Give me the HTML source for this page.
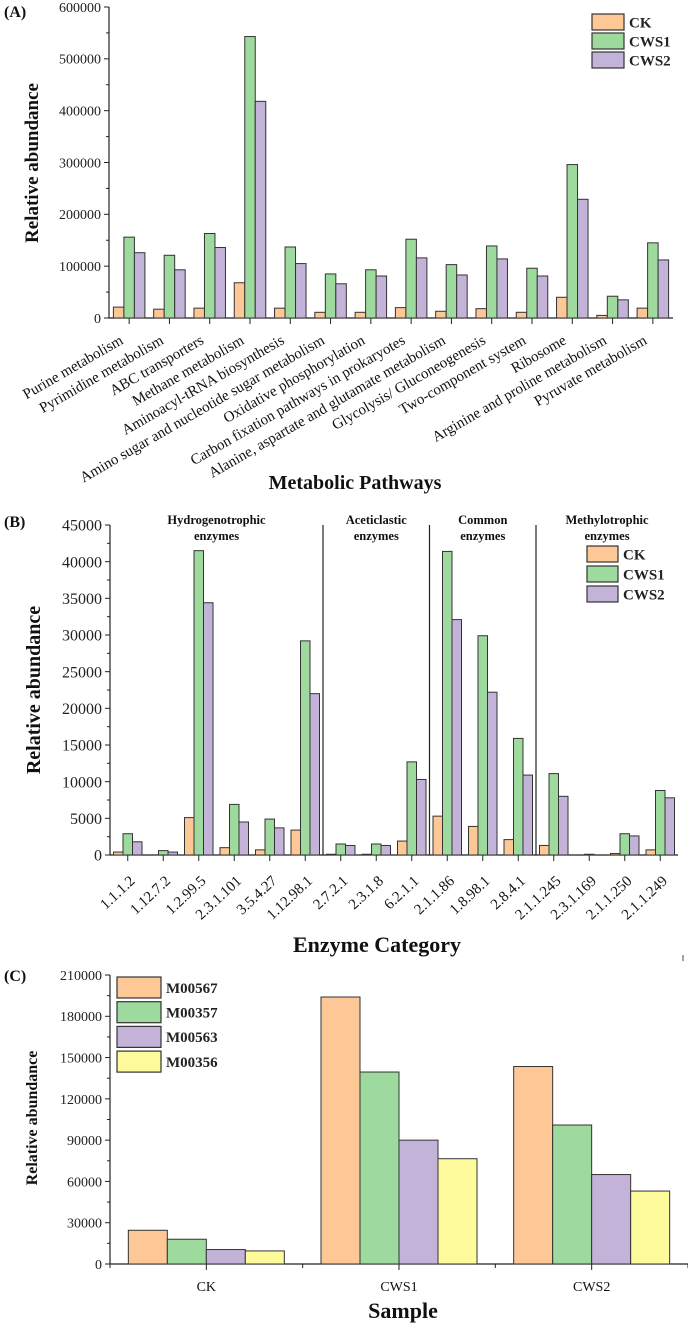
<!DOCTYPE html>
<html><head><meta charset="utf-8"><style>
html,body{margin:0;padding:0;background:#fff}
svg{display:block;font-family:"Liberation Serif",serif}
.b{font-weight:bold}
</style></head><body>
<svg id="s" width="688" height="1327" viewBox="0 0 688 1327"></svg>
<script>
// Panel A data
const catsA=["Purine metabolism","Pyrimidine metabolism","ABC transporters","Methane metabolism","Aminoacyl-tRNA biosynthesis","Amino sugar and nucleotide sugar metabolism","Oxidative phosphorylation","Carbon fixation pathways in prokaryotes","Alanine, aspartate and glutamate metabolism","Glycolysis/ Gluconeogenesis","Two-component system","Ribosome","Arginine and proline metabolism","Pyruvate metabolism"];
const ckA=[21000,17000,19000,68000,19000,11000,11000,20000,13000,18000,11000,40000,5000,19000];
const cws1A=[156000,121000,163000,543000,137000,85000,93000,152000,103000,139000,96000,296000,42000,145000];
const cws2A=[126000,93000,136000,418000,105000,66000,81000,116000,83000,114000,81000,229000,35000,112000];
const ticksA=[0,100000,200000,300000,400000,500000,600000];
// Panel B data
const catsB=["1.1.1.2","1.12.7.2","1.2.99.5","2.3.1.101","3.5.4.27","1.12.98.1","2.7.2.1","2.3.1.8","6.2.1.1","2.1.1.86","1.8.98.1","2.8.4.1","2.1.1.245","2.3.1.169","2.1.1.250","2.1.1.249"];
const ckB=[400,0,5100,1000,700,3400,100,100,1900,5300,3900,2100,1300,0,200,700];
const cws1B=[2900,600,41500,6900,4900,29200,1500,1500,12700,41400,29900,15900,11100,100,2900,8800];
const cws2B=[1800,400,34400,4500,3700,22000,1300,1300,10300,32100,22200,10900,8000,0,2600,7800];
const ticksB=[0,5000,10000,15000,20000,25000,30000,35000,40000,45000];
const groupsB=[["Hydrogenotrophic","enzymes",0,6],["Aceticlastic","enzymes",6,9],["Common","enzymes",9,12],["Methylotrophic","enzymes",12,16]];
// Panel C data
const catsC=["CK","CWS1","CWS2"];
const m567=[24500,194000,143500];
const m357=[18000,139500,101000];
const m563=[10500,90000,65000];
const m356=[9500,76500,53000];
const ticksC=[0,30000,60000,90000,120000,150000,180000,210000];

const S=document.getElementById('s');
const NS="http://www.w3.org/2000/svg";
function mk(t,a,txt){const e=document.createElementNS(NS,t);for(const k in a)e.setAttribute(k,a[k]);if(txt!==undefined)e.textContent=txt;S.appendChild(e);return e;}
const COL=["#fdc796","#9ed99d","#c3b3d9","#fdfb9b"];

function panel(o){
  const {x0,x1,yTop,yBot,max,ticks,cats,series,names,tf,bw}=o;
  const ys=v=>yBot-(v/max)*(yBot-yTop);
  const n=cats.length, cw=(x1-x0)/n;
  const xs=i=>x0+cw*(i+0.5);
  let a=mk('line',{x1:x0,y1:yTop,x2:x0,y2:yBot,stroke:'#222','stroke-width':1.2});
  
  a=mk('line',{x1:x0,y1:yBot,x2:x1,y2:yBot,stroke:'#222','stroke-width':1.2});
  
  ticks.forEach((t,k)=>{
    const y=ys(t);
    mk('line',{x1:x0-5,y1:y,x2:x0,y2:y,stroke:'#222'});
    if(k<ticks.length-1){const ym=ys((t+ticks[k+1])/2);mk('line',{x1:x0-3,y1:ym,x2:x0,y2:ym,stroke:'#222'});}
    const l=mk('text',{x:x0-8,y:y+tf*0.35,'text-anchor':'end','font-size':tf,fill:'#222'},String(t));
    
  });
  for(let i=0;i<n;i++){mk('line',{x1:xs(i),y1:yBot,x2:xs(i),y2:yBot+6,stroke:'#222'});}
  for(let i=0;i<=n;i++){if(o.between){const xb=x0+cw*i;mk('line',{x1:xb,y1:yBot,x2:xb,y2:yBot+4,stroke:'#222'});}}
  const m=series.length;
  series.forEach((arr,j)=>{
    arr.forEach((v,i)=>{
      const bx=xs(i)-bw*m/2+bw*j;
      const r=mk('rect',{x:bx,y:ys(v),width:bw,height:yBot-ys(v),fill:COL[j],stroke:'#333','stroke-width':1});
      
      
    });
  });
  return xs;
}
function legend(x,y,step,w,h,fs,names,id){
  names.forEach((nm,j)=>{
    const r=mk('rect',{x:x,y:y+j*step,width:w,height:h,fill:COL[j],stroke:'#333','stroke-width':1.2});
    
    const t=mk('text',{x:x+w+5,y:y+j*step+h/2+fs*0.35,'font-size':fs,'class':'b',fill:'#222'},nm);
    
  });
}
function lbl(txt,x,y,fs,name,rot,anchor,bold){
  const a={x:x,y:y,'font-size':fs,fill:'#111','text-anchor':anchor||'middle'};
  if(bold)a['class']='b';
  if(rot)a.transform='rotate('+rot+' '+x+' '+y+')';
  const t=mk('text',a,txt);return t;
}

// ---- Panel A
lbl('(A)',4,17,16,'panel-a-label',0,'start',true);
const xsA=panel({id:'a',x0:109,x1:673,yTop:7,yBot:318,max:600000,ticks:ticksA,cats:catsA,series:[ckA,cws1A,cws2A],names:['CK','CWS1','CWS2'],tf:14,bw:10.5});
catsA.forEach((c,i)=>lbl(c,xsA(i)-5,343,15,'a-x-tick-label',-30,'end'));
lbl('Relative abundance',38,163,19,'a-y-axis-title',-90,'middle',true);
lbl('Metabolic Pathways',355,489,20,'a-x-axis-title',0,'middle',true);
legend(592,14,19,32,16,15,['CK','CWS1','CWS2'],'a');

// ---- Panel B
lbl('(B)',4,527,16,'panel-b-label',0,'start',true);
const xsB=panel({id:'b',x0:110,x1:678,yTop:525,yBot:855,max:45000,ticks:ticksB,cats:catsB,series:[ckB,cws1B,cws2B],names:['CK','CWS1','CWS2'],tf:16,bw:9.5});
groupsB.forEach((g,k)=>{
  const cw=(678-110)/catsB.length;
  const cx=110+cw*(g[2]+g[3])/2;
  lbl(g[0],cx,524,12.5,'b-group-title',0,'middle',true);
  lbl(g[1],cx,540,12.5,'b-group-title',0,'middle',true);
  if(k>0){const xb=110+cw*g[2];const l=mk('line',{x1:xb,y1:525,x2:xb,y2:855,stroke:'#222','stroke-width':1.2});
    }
});
catsB.forEach((c,i)=>lbl(c,xsB(i)+8,882,15,'b-x-tick-label',-43,'end'));
lbl('Relative abundance',40,690,20,'b-y-axis-title',-90,'middle',true);
lbl('Enzyme Category',377,952,22,'b-x-axis-title',0,'middle',true);
legend(587,546,20,31,16,15,['CK','CWS1','CWS2'],'b');

// ---- Panel C
lbl('(C)',4,981,16,'panel-c-label',0,'start',true);
const xsC=panel({id:'c',x0:110,x1:688,yTop:975,yBot:1264,max:210000,ticks:ticksC,cats:catsC,series:[m567,m357,m563,m356],names:['M00567','M00357','M00563','M00356'],tf:14,bw:39,between:true});
catsC.forEach((c,i)=>lbl(c,xsC(i),1291,14,'c-x-tick-label',0,'middle'));
lbl('Relative abundance',37,1118,16,'c-y-axis-title',-90,'middle',true);
lbl('Sample',403,1318,22,'c-x-axis-title',0,'middle',true);
legend(117,977,24.7,44,21,15,['M00567','M00357','M00563','M00356'],'c');
mk('line',{x1:683,y1:955,x2:683,y2:961,stroke:'#444'});
</script>
</body></html>
